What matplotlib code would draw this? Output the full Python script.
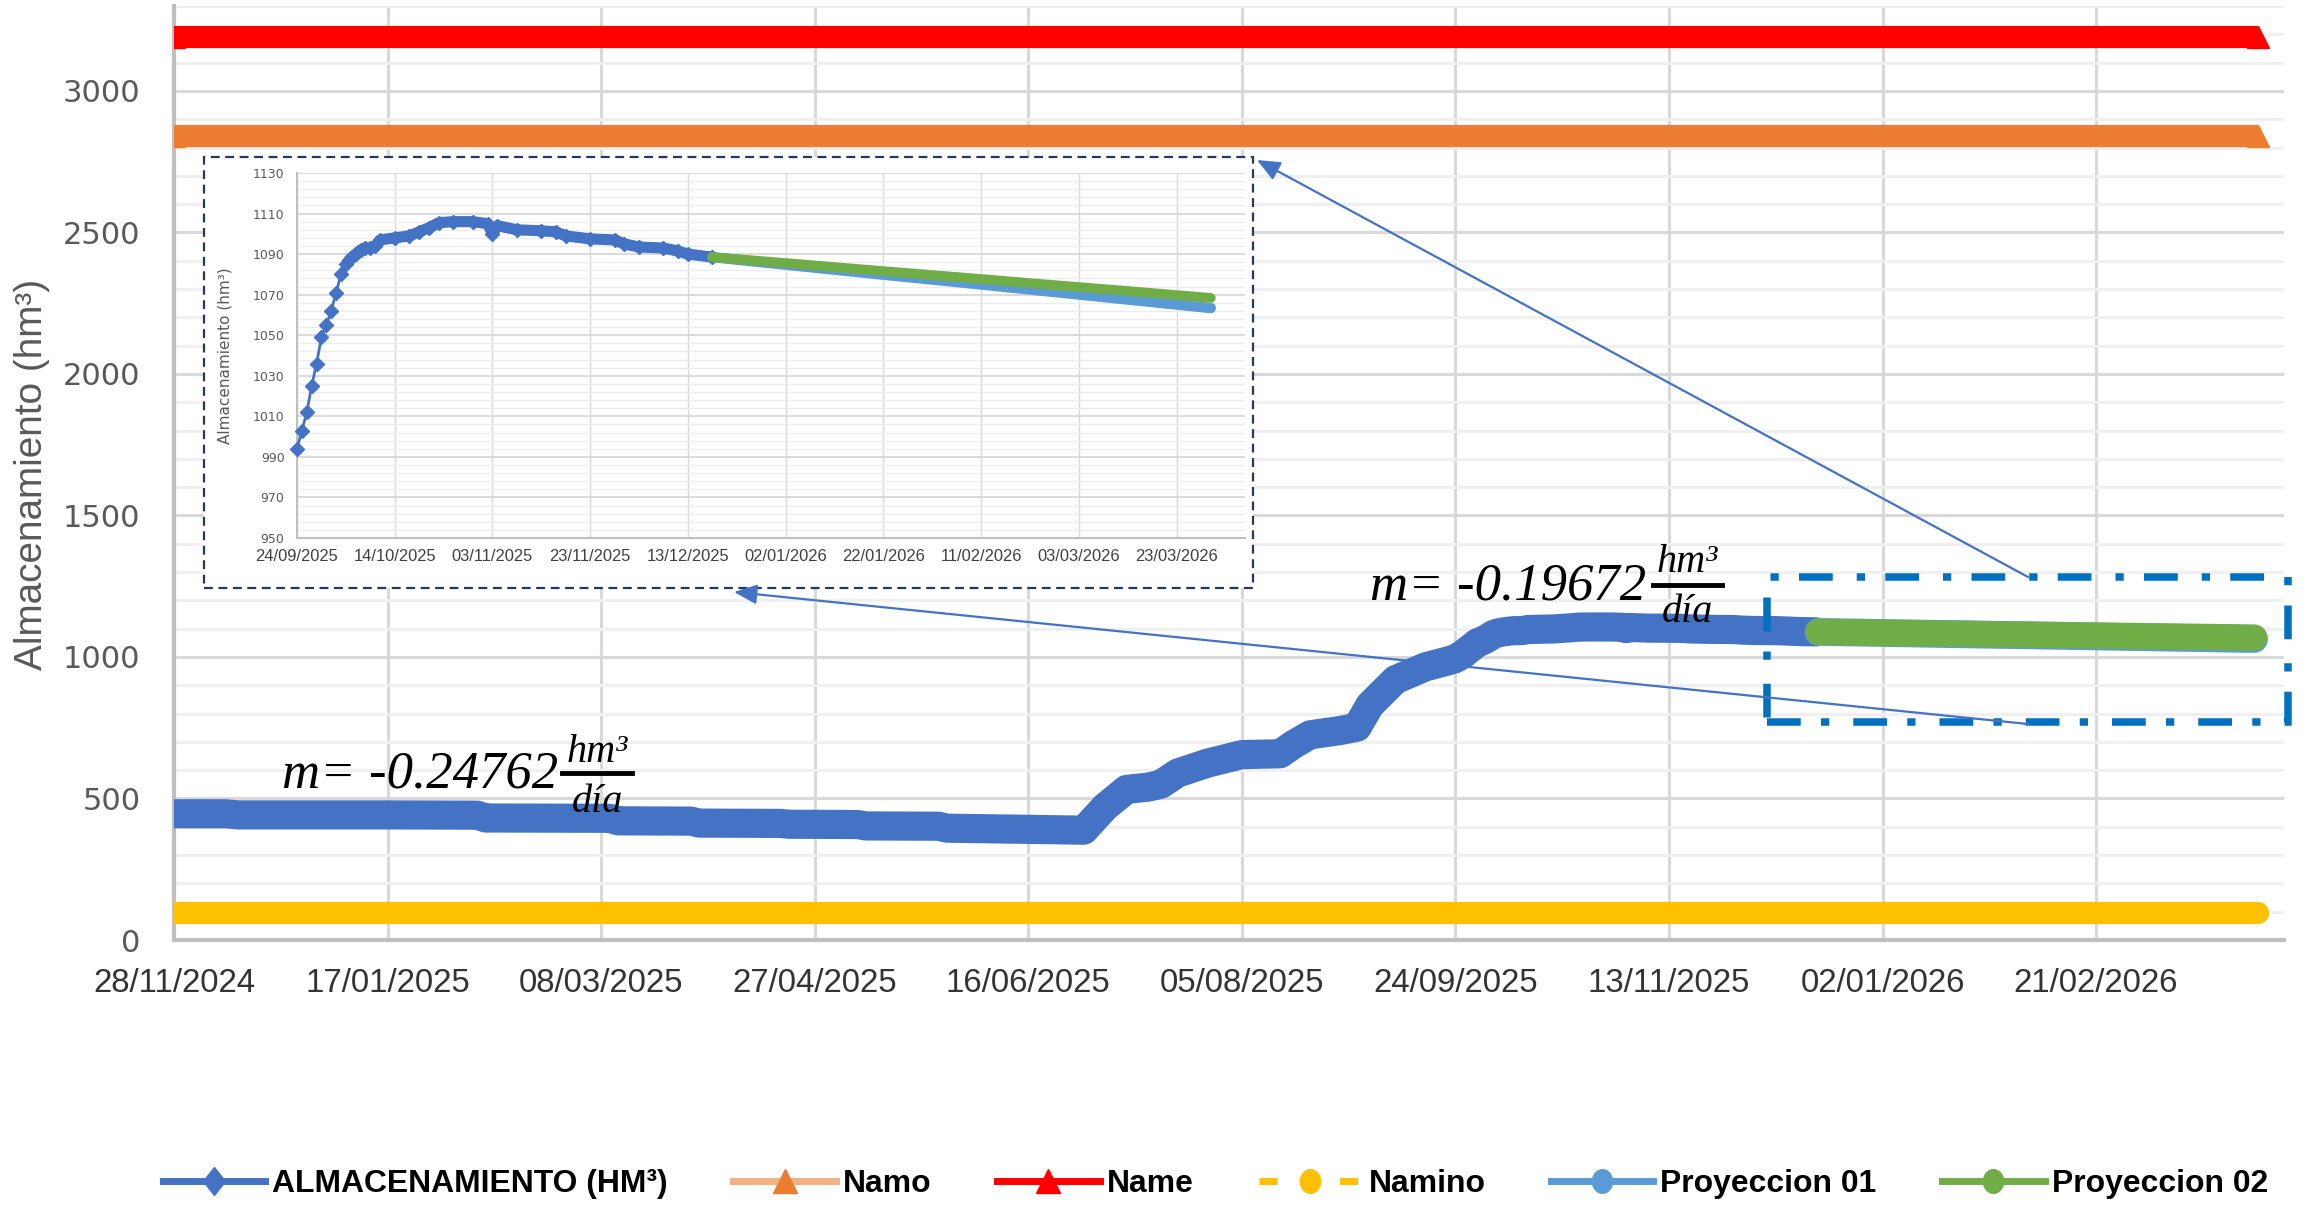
import numpy as np
import pandas as pd
import matplotlib
matplotlib.use('Agg')
import matplotlib.pyplot as plt
from matplotlib import font_manager
from matplotlib.font_manager import FontProperties
from matplotlib.lines import Line2D
from matplotlib.patches import Rectangle, FancyArrowPatch
from matplotlib.markers import MarkerStyle
from matplotlib.transforms import Affine2D

# ---- data ----
storage_dates = ['2024-11-28', '2024-12-10', '2024-12-13', '2025-01-17', '2025-02-07',
                 '2025-02-09', '2025-03-10', '2025-03-12', '2025-03-29', '2025-03-31',
                 '2025-04-19', '2025-04-21', '2025-05-07', '2025-05-09', '2025-05-26',
                 '2025-05-28', '2025-06-16', '2025-06-29', '2025-07-04', '2025-07-09',
                 '2025-07-14', '2025-07-17', '2025-07-21', '2025-07-28', '2025-08-05',
                 '2025-08-14', '2025-08-17', '2025-08-21', '2025-08-28', '2025-09-01',
                 '2025-09-04', '2025-09-10', '2025-09-17', '2025-09-22',
                 '2025-09-24', '2025-09-25', '2025-09-26', '2025-09-27', '2025-09-28',
                 '2025-09-29', '2025-09-30', '2025-10-01', '2025-10-02', '2025-10-03',
                 '2025-10-04', '2025-10-05', '2025-10-06', '2025-10-07', '2025-10-08',
                 '2025-10-09', '2025-10-10', '2025-10-11', '2025-10-14', '2025-10-17',
                 '2025-10-19', '2025-10-21', '2025-10-23', '2025-10-26', '2025-10-30',
                 '2025-11-02', '2025-11-03', '2025-11-04', '2025-11-08', '2025-11-13',
                 '2025-11-16', '2025-11-18', '2025-11-23', '2025-11-28', '2025-11-30',
                 '2025-12-03', '2025-12-08', '2025-12-11', '2025-12-13', '2025-12-18']
storage_vals = [446, 446, 442, 442, 441,
                431, 430, 421, 420, 413,
                412, 409, 408, 403, 402,
                395, 391, 388, 470, 532,
                540, 550, 590, 625, 655,
                658, 690, 725, 740, 752,
                830, 920, 965, 985,
                994, 1003, 1012, 1025, 1036,
                1049, 1055, 1062, 1071, 1080,
                1085, 1088, 1090, 1092, 1093,
                1093, 1094, 1097, 1098, 1099,
                1101, 1103, 1105.5, 1106, 1106,
                1105, 1100, 1104, 1102, 1101.5,
                1101, 1099, 1097.5, 1097, 1095,
                1093.5, 1093, 1091.5, 1090, 1088.5]

proj_dates = ['2025-12-18', '2026-01-04', '2026-01-21', '2026-02-07',
              '2026-02-24', '2026-03-13', '2026-03-30']
proj01 = [1088.5, 1084.3, 1080.1, 1076.0, 1071.8, 1067.6, 1063.4]
proj02 = [1088.5, 1085.2, 1081.8, 1078.5, 1075.1, 1071.8, 1068.4]

level_dates = ['2024-11-28', '2026-03-31']
namo = 2840
name = 3190
namino = 95

main_ticks = ['2024-11-28', '2025-01-17', '2025-03-08', '2025-04-27', '2025-06-16',
              '2025-08-05', '2025-09-24', '2025-11-13', '2026-01-02', '2026-02-21']
main_tick_labels = ['28/11/2024', '17/01/2025', '08/03/2025', '27/04/2025', '16/06/2025',
                    '05/08/2025', '24/09/2025', '13/11/2025', '02/01/2026', '21/02/2026']
inset_ticks = ['2025-09-24', '2025-10-14', '2025-11-03', '2025-11-23', '2025-12-13',
               '2026-01-02', '2026-01-22', '2026-02-11', '2026-03-03', '2026-03-23']
inset_tick_labels = ['24/09/2025', '14/10/2025', '03/11/2025', '23/11/2025', '13/12/2025',
                     '02/01/2026', '22/01/2026', '11/02/2026', '03/03/2026', '23/03/2026']

legend_labels = ['ALMACENAMIENTO (HM³)', 'Namo', 'Name', 'Namino',
                 'Proyeccion 01', 'Proyeccion 02']

# ---- fonts ----
names = {f.name for f in font_manager.fontManager.ttflist}
if 'Liberation Sans Narrow' in names:
    NARROW, K = 'Liberation Sans Narrow', 1.0
else:
    NARROW, K = 'Liberation Sans', 0.82   # no condensed face: shrink to keep widths
SERIF = 'Liberation Serif' if 'Liberation Serif' in names else 'DejaVu Serif'

BLUE = '#4472c4'
GREY = '#595959'

W, H = 2306, 1208
def fx(p):
    return p / W
def fy(p):
    return 1 - p / H

fig = plt.figure(figsize=(W / 100, H / 100), dpi=100)

# ---- main axes ----
ax = fig.add_axes([fx(174), fy(940), (2284 - 174) / W, (940 - 6) / H], zorder=0)
sd = pd.to_datetime(storage_dates)
pdts = pd.to_datetime(proj_dates)
ld = pd.to_datetime(level_dates)

ax.plot(ld, [name] * 2, color='#ff0000', lw=16, solid_capstyle='butt',
        marker='^', ms=16, zorder=3)
ax.plot(ld, [namo] * 2, color='#ed7d31', lw=16, solid_capstyle='butt',
        marker='^', ms=16, zorder=3)
ax.plot(ld, [namino] * 2, color='#ffc000', lw=16, solid_capstyle='round', zorder=3)
ax.plot(sd, storage_vals, color=BLUE, lw=21, solid_joinstyle='round',
        solid_capstyle='butt', zorder=4)
ax.plot(pdts, proj01, color='#5b9bd5', lw=20, solid_capstyle='round', zorder=5)
ax.plot(pdts, proj02, color='#70ad47', lw=19, solid_capstyle='round', zorder=6)

ax.set_xlim(pd.Timestamp('2024-11-28'), pd.Timestamp('2026-04-06'))
ax.set_ylim(0, 3300)
ax.set_yticks(np.arange(0, 3001, 500))
ax.set_yticks(np.arange(0, 3301, 100), minor=True)
ax.set_xticks(pd.to_datetime(main_ticks))
ax.set_xticklabels(main_tick_labels, family=NARROW, fontsize=29 * K, color='#333333')
ax.set_yticklabels([str(v) for v in range(0, 3001, 500)], fontsize=22, color=GREY)
ax.tick_params(which='both', length=0)
ax.tick_params(axis='x', pad=20)
ax.tick_params(axis='y', pad=24)
ax.grid(which='major', axis='y', color='#d9d9d9', lw=2.2)
ax.grid(which='minor', axis='y', color='#f0f0f0', lw=2.2)
ax.grid(which='major', axis='x', color='#d9d9d9', lw=2.2)
ax.set_axisbelow(True)
for s in ['top', 'right']:
    ax.spines[s].set_visible(False)
for s in ['left', 'bottom']:
    ax.spines[s].set_color('#bfbfbf')
    ax.spines[s].set_linewidth(3)

fig.text(fx(32), fy(474), 'Almacenamiento (hm³)', rotation=90, ha='center', va='center',
         color=GREY, family=NARROW, fontsize=34 * K)

# ---- inset ----
box = Rectangle((fx(204), fy(588)), (1253 - 204) / W, (588 - 157) / H,
                transform=fig.transFigure, facecolor='white', edgecolor='#1f3864',
                lw=1.6, ls=(0, (4, 2.5)), zorder=1.5)
fig.add_artist(box)

axin = fig.add_axes([fx(297), fy(538), (1245 - 297) / W, (538 - 173) / H], zorder=2)
m1 = sd >= pd.Timestamp('2025-09-24')
m2 = sd >= pd.Timestamp('2025-10-04')
vals = np.array(storage_vals)
axin.plot(sd[m2], vals[m2], color=BLUE, lw=8, solid_capstyle='butt', zorder=4)
axin.plot(sd[m1], vals[m1], color=BLUE, lw=2, marker='D', ms=7, clip_on=False, zorder=4)
axin.plot(pdts, proj01, color='#5b9bd5', lw=7.5, solid_capstyle='round', zorder=5)
axin.plot(pdts, proj02, color='#70ad47', lw=7, solid_capstyle='round', zorder=6)
axin.set_xlim(pd.Timestamp('2025-09-24'), pd.Timestamp('2026-04-06'))
axin.set_ylim(950, 1130)
axin.set_yticks(np.arange(950, 1131, 20))
axin.set_yticks(np.arange(950, 1131, 4), minor=True)
axin.set_yticklabels([str(v) for v in range(950, 1131, 20)], fontsize=9, color=GREY)
axin.set_xticks(pd.to_datetime(inset_ticks))
axin.set_xticklabels(inset_tick_labels, family=NARROW, fontsize=14.5 * K, color='#404040')
axin.tick_params(which='both', length=0)
axin.tick_params(axis='x', pad=8)
axin.tick_params(axis='y', pad=9)
axin.grid(which='major', axis='y', color='#d9d9d9', lw=1.3)
axin.grid(which='minor', axis='y', color='#ececec', lw=1.0)
axin.grid(which='major', axis='x', color='#d9d9d9', lw=1.0)
axin.set_axisbelow(True)
for s in ['top', 'right']:
    axin.spines[s].set_visible(False)
for s in ['left', 'bottom']:
    axin.spines[s].set_color('#bfbfbf')
    axin.spines[s].set_linewidth(1.5)
axin.set_ylabel('Almacenamiento (hm³)', fontsize=11, color=GREY)
axin.yaxis.set_label_coords((233 - 297) / (1245 - 297), 0.5)

# ---- zoom rectangle and arrows ----
zoom_box = Rectangle((fx(1767), fy(722)), (2288 - 1767) / W, (722 - 577) / H,
                     transform=fig.transFigure, fill=False, edgecolor='#0070c0',
                     lw=5.4, ls=(0, (4.5, 2.7, 1.1, 3.2)), zorder=3)
fig.add_artist(zoom_box)
for start, end in [((2028, 577), (1257, 160)), ((2028, 724), (734, 592))]:
    arr = FancyArrowPatch((fx(start[0]), fy(start[1])), (fx(end[0]), fy(end[1])),
                          transform=fig.transFigure,
                          arrowstyle='-|>,head_length=0.7,head_width=0.3',
                          mutation_scale=20, lw=1.6, color=BLUE,
                          shrinkA=0, shrinkB=0, zorder=3)
    fig.add_artist(arr)

# ---- slope annotations ----
for x0, base, bar_x0, bar_x1, bar_y, hm_y, dia_y, txt in [
        (282, 788, 562, 632, 773, 762, 812, 'm= -0.24762'),
        (1370, 599, 1653, 1722, 585, 572, 622, 'm= -0.19672')]:
    fig.text(fx(x0), fy(base), txt, fontsize=38, style='italic', family=SERIF,
             ha='left', va='baseline', zorder=4)
    cx = (bar_x0 + bar_x1) / 2
    fig.text(fx(cx), fy(hm_y), 'hm³', fontsize=29, style='italic', family=SERIF,
             ha='center', va='baseline', zorder=4)
    fig.text(fx(cx), fy(dia_y), 'día', fontsize=29, style='italic', family=SERIF,
             ha='center', va='baseline', zorder=4)
    fig.add_artist(Line2D([fx(bar_x0), fx(bar_x1)], [fy(bar_y)] * 2,
                          transform=fig.transFigure, color='black', lw=3.5, zorder=4))

# ---- legend ----
diamond = MarkerStyle('D', transform=Affine2D().scale(0.82, 1.0))
oval = MarkerStyle('o', transform=Affine2D().scale(0.85, 1.0))
handles = [
    Line2D([], [], color=BLUE, lw=5, marker=diamond, ms=14),
    Line2D([], [], color='#f4b183', lw=5, marker='^', ms=17,
           markerfacecolor='#ed7d31', markeredgecolor='#ed7d31'),
    Line2D([], [], color='#ff0000', lw=5, marker='^', ms=17),
    Line2D([], [], color='#ffc000', lw=5, ls=(0, (2.6, 3.2)), marker=oval, ms=17),
    Line2D([], [], color='#5b9bd5', lw=5, marker=oval, ms=17),
    Line2D([], [], color='#70ad47', lw=5, marker=oval, ms=17),
]
lfs = 28 * K
fig.legend(handles, legend_labels, ncol=6, loc='center', bbox_to_anchor=(0.527, 0.02),
           frameon=False, prop=FontProperties(family=NARROW, size=lfs, weight='bold'),
           handlelength=74 / lfs, handletextpad=5 / lfs, columnspacing=47 / lfs)

fig.savefig('out.png', dpi=100)
